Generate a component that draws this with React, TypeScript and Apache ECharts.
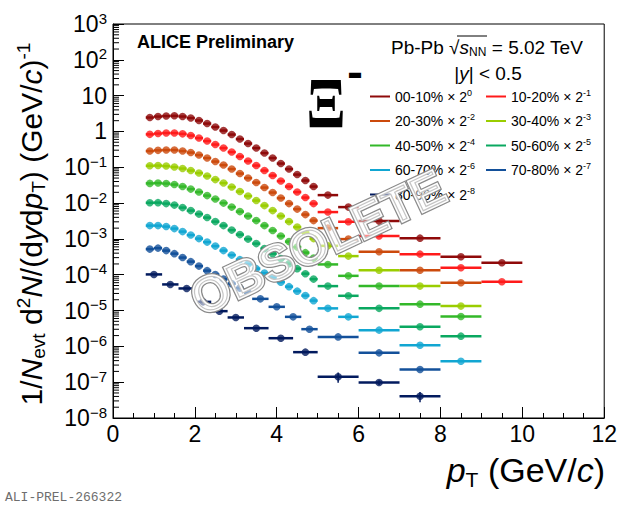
import React, { useEffect, useRef } from 'react';
import * as echarts from 'echarts';

const FONT = '"Liberation Sans", Arial, Helvetica, sans-serif';

// ---- data ----
const centralities = ['00-10%', '10-20%', '20-30%', '30-40%', '40-50%', '50-60%', '60-70%', '70-80%', '80-90%'];
const scaleExponents = ['0', '-1', '-2', '-3', '-4', '-5', '-6', '-7', '-8'];
const colors = ['#8f0a0a', '#ff1a1a', '#cc4a0c', '#9acd00', '#33b829', '#0aa860', '#11a6d2', '#13509a', '#021a5e'];

const ptDense = [0.9, 1.1, 1.3, 1.5, 1.7, 1.9, 2.1, 2.3, 2.5, 2.7, 2.9, 3.1, 3.3, 3.5, 3.7, 3.9, 4.1, 4.3, 4.5, 4.7, 4.9];
const halfDense = [0.1, 0.1, 0.1, 0.1, 0.1, 0.1, 0.1, 0.1, 0.1, 0.1, 0.1, 0.1, 0.1, 0.1, 0.1, 0.1, 0.1, 0.1, 0.1, 0.1, 0.1];
const ptWide = [5.25, 5.75, 6.5, 7.5, 8.5, 9.5];
const halfWide = [0.25, 0.25, 0.5, 0.5, 0.5, 0.5];

const pt7080 = [0.9, 1.1, 1.3, 1.5, 1.7, 1.9, 2.1, 2.3, 2.5, 2.7, 2.9, 3.1, 3.3, 3.6, 4.0, 4.4, 4.8, 5.5, 6.5, 7.5];
const half7080 = [0.1, 0.1, 0.1, 0.1, 0.1, 0.1, 0.1, 0.1, 0.1, 0.1, 0.1, 0.1, 0.1, 0.2, 0.2, 0.2, 0.2, 0.5, 0.5, 0.5];
const pt8090 = [1.0, 1.4, 1.8, 2.2, 2.6, 3.0, 3.5, 4.1, 4.7, 5.5, 6.5, 7.5];
const half8090 = [0.2, 0.2, 0.2, 0.2, 0.2, 0.2, 0.3, 0.3, 0.3, 0.5, 0.5, 0.5];
const err8090 = [0, 0, 0, 0, 0, 0, 0, 0, 0, 4.5e-8, 1.5e-8, 1.3e-8];

const c0010 = [2.45, 2.61, 2.69, 2.73, 2.61, 2.37, 2.02, 1.66, 1.33, 1.06, 0.819, 0.613, 0.459, 0.344, 0.249, 0.181, 0.127, 0.0891, 0.0625, 0.0425, 0.0289, 0.0167, 0.00773, 0.00314, 0.00105, 3.16e-4, 2.15e-4];
const c1020 = [0.83, 0.874, 0.902, 0.902, 0.857, 0.768, 0.654, 0.539, 0.431, 0.344, 0.266, 0.199, 0.149, 0.1115, 0.0809, 0.0586, 0.0412, 0.0289, 0.0203, 0.01425, 0.00968, 0.00561, 0.00301, 0.0012, 3.76e-4, 1.56e-4, 6.34e-5];
const c2030 = [0.2835, 0.2965, 0.302, 0.302, 0.2835, 0.2575, 0.219, 0.181, 0.1443, 0.1152, 0.0891, 0.0667, 0.0499, 0.0374, 0.0271, 0.0197, 0.0138, 0.00968, 0.0068, 0.00477, 0.00324, 0.002, 9.87e-4, 4.36e-4, 1.34e-4, 5.94e-5];
const c3040 = [0.11, 0.1115, 0.108, 0.1013, 0.092, 0.0809, 0.0689, 0.0568, 0.0453, 0.0362, 0.028, 0.021, 0.0157, 0.01175, 0.00851, 0.00617, 0.00434, 0.00304, 0.00214, 0.0015, 0.00102, 6.41e-4, 3.31e-4, 1.34e-4, 4.81e-5, 1.33e-5];
const c4050 = [0.0355, 0.0362, 0.0351, 0.0329, 0.0289, 0.0246, 0.0203, 0.0162, 0.01294, 0.01, 0.00773, 0.00579, 0.00434, 0.00324, 0.00235, 0.00171, 0.0012, 8.41e-4, 5.9e-4, 4.14e-4, 2.91e-4, 1.94e-4, 9.31e-5, 4.81e-5, 1.51e-5, 6.84e-6];
const c5060 = [0.0102, 0.0103, 0.00968, 0.00879, 0.00748, 0.00617, 0.00493, 0.00394, 0.00304, 0.00235, 0.00176, 0.00132, 9.87e-4, 7.39e-4, 5.36e-4, 3.88e-4, 2.82e-4, 2.04e-4, 1.48e-4, 1.07e-4, 7.54e-5, 4.81e-5, 2.58e-5, 1.15e-5, 3.51e-6, 1.93e-6];
const c6070 = [0.00235, 0.00235, 0.00221, 0.00194, 0.0016, 0.00128, 0.00102, 8.14e-4, 6.3e-4, 4.71e-4, 3.53e-4, 2.64e-4, 1.98e-4, 1.48e-4, 1.11e-4, 8.3e-5, 6.21e-5, 4.65e-5, 3.48e-5, 2.61e-5, 1.89e-5, 1.15e-5, 6.67e-6, 2.84e-6, 1.08e-6, 3.86e-7];
const c7080 = [5.19e-4, 5.53e-4, 4.71e-4, 3.88e-4, 3.01e-4, 2.32e-4, 1.74e-4, 1.3e-4, 1.01e-4, 7.54e-5, 5.64e-5, 4.23e-5, 3.16e-5, 2.12e-5, 1.27e-5, 6.67e-6, 3.02e-6, 1.84e-6, 6.58e-7, 2.26e-7];
const c8090 = [1.02e-4, 5.36e-5, 4.14e-5, 1.75e-5, 9.62e-6, 6.41e-6, 3.22e-6, 1.69e-6, 6.89e-7, 1.41e-7, 9.81e-8, 4.06e-8];

const yMinorMultipliers = [2, 3, 4, 5, 6, 7, 8, 9];
const yDecades = [-8, -7, -6, -5, -4, -3, -2, -1, 0, 1, 2];

// ---- build ----
const ptMain = ptDense.concat(ptWide);
const halfMain = halfDense.concat(halfWide);
const groups = [
  { val: c0010, pt: ptMain, half: halfMain, err: null },
  { val: c1020, pt: ptMain, half: halfMain, err: null },
  { val: c2030, pt: ptMain, half: halfMain, err: null },
  { val: c3040, pt: ptMain, half: halfMain, err: null },
  { val: c4050, pt: ptMain, half: halfMain, err: null },
  { val: c5060, pt: ptMain, half: halfMain, err: null },
  { val: c6070, pt: ptMain, half: halfMain, err: null },
  { val: c7080, pt: pt7080, half: half7080, err: null },
  { val: c8090, pt: pt8090, half: half8090, err: err8090 },
];

function buildOption() {
  const series: any[] = [];
  groups.forEach((g, i) => {
    const color = colors[i];
    const name = centralities[i];
    const errData = g.val.map((v, k) => [g.pt[k], v, g.half[k], g.err ? g.err[k] : 0]);
    series.push({
      type: 'custom',
      name,
      coordinateSystem: 'cartesian2d',
      silent: true,
      z: 3,
      itemStyle: { color },
      encode: { x: 0, y: 1 },
      data: errData,
      renderItem: (params: any, api: any) => {
        const x = api.value(0);
        const y = api.value(1);
        const hx = api.value(2);
        const ey = api.value(3);
        const l = api.coord([x - hx, y]);
        const r = api.coord([x + hx, y]);
        const children: any[] = [
          { type: 'line', shape: { x1: l[0], y1: l[1], x2: r[0], y2: r[1] }, style: { stroke: color, lineWidth: 2.5 } },
        ];
        if (ey > 0) {
          const t = api.coord([x, y + ey]);
          const b = api.coord([x, y - ey]);
          children.push({ type: 'line', shape: { x1: t[0], y1: t[1], x2: b[0], y2: b[1] }, style: { stroke: color, lineWidth: 1.5 } });
        }
        return { type: 'group', children };
      },
    });
    series.push({
      type: 'scatter',
      name,
      symbol: 'circle',
      symbolSize: 7.5,
      z: 4,
      silent: true,
      itemStyle: { color },
      data: g.val.map((v, k) => [g.pt[k], v]),
    });
  });

  const minorData: number[][] = [];
  yDecades.forEach((d) => yMinorMultipliers.forEach((m) => minorData.push([0, m * Math.pow(10, d)])));
  series.push({
    type: 'custom',
    name: 'yMinor',
    silent: true,
    z: 5,
    data: minorData,
    encode: { x: 0, y: 1 },
    renderItem: (params: any, api: any) => {
      const p = api.coord([api.value(0), api.value(1)]);
      return { type: 'line', shape: { x1: p[0], y1: p[1], x2: p[0] + 6, y2: p[1] }, style: { stroke: '#000', lineWidth: 1 } };
    },
  });

  const expOf: Record<string, string> = {};
  centralities.forEach((c, i) => (expOf[c] = scaleExponents[i]));

  const legendBase = {
    orient: 'vertical',
    top: 88,
    padding: 0,
    itemGap: 9,
    itemWidth: 20,
    itemHeight: 2,
    icon: 'rect',
    selectedMode: false,
    formatter: (name: string) => `{t|${name} × 2}{s|${expOf[name]}}`,
    textStyle: {
      fontSize: 14,
      fontFamily: FONT,
      color: '#000',
      rich: {
        t: { fontSize: 14, fontFamily: FONT, color: '#000', lineHeight: 18 },
        s: { fontSize: 9, fontFamily: FONT, color: '#000', padding: [0, 0, 8, 0] },
      },
    },
  };

  const txt = (extra: any) => ({ type: 'text', z: 50, ...extra });
  const obsoleteStyle = { text: 'OBSOLETE', fontSize: 50, fontWeight: 'bold', fontFamily: FONT, align: 'center', verticalAlign: 'middle' };

  return {
    animation: false,
    backgroundColor: '#ffffff',
    grid: { left: 113, right: 15, top: 24, bottom: 94, show: true, borderColor: '#000', borderWidth: 1, backgroundColor: 'transparent' },
    xAxis: {
      type: 'value',
      min: 0,
      max: 12,
      interval: 2,
      axisLine: { show: true, lineStyle: { color: '#000', width: 1 } },
      axisTick: { show: true, inside: true, length: 11, lineStyle: { color: '#000' } },
      minorTick: { show: true, splitNumber: 4, length: 5, lineStyle: { color: '#000' } },
      splitLine: { show: false },
      axisLabel: { fontSize: 23, fontFamily: FONT, color: '#000', margin: 4 },
    },
    yAxis: {
      type: 'log',
      logBase: 10,
      min: 1e-8,
      max: 1e3,
      interval: 1,
      axisLine: { show: true, lineStyle: { color: '#000', width: 1 } },
      axisTick: { show: true, inside: true, length: 11, lineStyle: { color: '#000' } },
      splitLine: { show: false },
      axisLabel: {
        margin: 6,
        formatter: (v: number) => {
          const e = Math.round(Math.log10(v));
          if (e === 0) return '{b|1}';
          if (e === 1) return '{b|10}';
          return `{b|10}{s|${e < 0 ? '−' + -e : e}}`;
        },
        rich: {
          b: { fontSize: 23, fontFamily: FONT, color: '#000' },
          s: { fontSize: 15, fontFamily: FONT, color: '#000', padding: [0, 0, 12, 0] },
        },
      },
    },
    legend: [
      { ...legendBase, left: 370, data: [centralities[0], centralities[2], centralities[4], centralities[6], centralities[8]] },
      { ...legendBase, left: 486, data: [centralities[1], centralities[3], centralities[5], centralities[7]] },
    ],
    graphic: [
      txt({ x: 137, y: 42, style: { text: 'ALICE Preliminary', fontSize: 18, fontWeight: 'bold', fontFamily: FONT, fill: '#000', verticalAlign: 'middle' } }),
      txt({
        x: 487, y: 47,
        style: {
          text: 'Pb-Pb √{i|s}{sub|NN} = 5.02 TeV', fontSize: 19, fontFamily: FONT, fill: '#000', align: 'center', verticalAlign: 'middle',
          rich: {
            i: { fontSize: 19, fontFamily: FONT, fontStyle: 'italic', fill: '#000' },
            sub: { fontSize: 12, fontFamily: FONT, fill: '#000', padding: [10, 0, 0, 0] },
          },
        },
      }),
      { type: 'line', z: 50, shape: { x1: 457, y1: 36, x2: 487, y2: 36 }, style: { stroke: '#000', lineWidth: 1 } },
      txt({
        x: 488, y: 73,
        style: {
          text: '|{i|y}| < 0.5', fontSize: 19, fontFamily: FONT, fill: '#000', align: 'center', verticalAlign: 'middle',
          rich: { i: { fontSize: 19, fontFamily: FONT, fontStyle: 'italic', fill: '#000' } },
        },
      }),
      txt({ x: 326, y: 103, scaleX: 0.8, style: { text: 'Ξ', fontSize: 72, fontWeight: 'bold', fontFamily: '"Liberation Serif", "DejaVu Serif", serif', fill: '#000', align: 'center', verticalAlign: 'middle' } }),
      txt({ x: 355, y: 75, scaleY: 2, style: { text: '−', fontSize: 24, fontWeight: 'bold', fontFamily: FONT, fill: '#000', align: 'center', verticalAlign: 'middle' } }),
      txt({
        x: 31, y: 224, rotation: Math.PI / 2,
        style: {
          text: '1/{i|N}{sub|evt} d{sup|2}{i|N}/(d{i|y}d{i|p}{sub|T}) (GeV/{i|c}){sup|-1}',
          fontSize: 30, fontFamily: FONT, fill: '#000', align: 'center', verticalAlign: 'middle',
          rich: {
            i: { fontSize: 30, fontFamily: FONT, fontStyle: 'italic', fill: '#000' },
            sub: { fontSize: 19, fontFamily: FONT, fill: '#000', padding: [15, 0, 0, 0] },
            sup: { fontSize: 19, fontFamily: FONT, fill: '#000', padding: [0, 0, 15, 0] },
          },
        },
      }),
      txt({
        x: 605, y: 470,
        style: {
          text: '{i|p}{sub|T} (GeV/{i|c})', fontSize: 34, fontFamily: FONT, fill: '#000', align: 'right', verticalAlign: 'middle',
          rich: {
            i: { fontSize: 34, fontFamily: FONT, fontStyle: 'italic', fill: '#000' },
            sub: { fontSize: 21, fontFamily: FONT, fill: '#000', padding: [18, 0, 0, 0] },
          },
        },
      }),
      txt({ x: 5, y: 497, style: { text: 'ALI-PREL-266322', fontSize: 13, fontFamily: '"Liberation Mono", "DejaVu Sans Mono", monospace', fill: '#6e6e6e', verticalAlign: 'middle' } }),
      {
        type: 'text', z: 100, x: 318, y: 243, rotation: 0.44, silent: true,
        style: { ...obsoleteStyle, fill: 'rgba(255,255,255,0.5)', stroke: '#8a8a8a', lineWidth: 4 },
      },
      {
        type: 'text', z: 101, x: 318, y: 243, rotation: 0.44, silent: true,
        style: { ...obsoleteStyle, fill: 'rgba(255,255,255,0)', stroke: '#ffffff', lineWidth: 1.5 },
      },
    ],
    series,
  };
}

export default function App() {
  const ref = useRef<HTMLDivElement>(null);
  useEffect(() => {
    if (!ref.current) return;
    const chart = echarts.init(ref.current, undefined, { renderer: 'svg' });
    chart.setOption(buildOption() as any);
    return () => chart.dispose();
  }, []);
  return <div ref={ref} style={{ position: 'absolute', left: 0, top: 0, width: 620, height: 512 }} />;
}
